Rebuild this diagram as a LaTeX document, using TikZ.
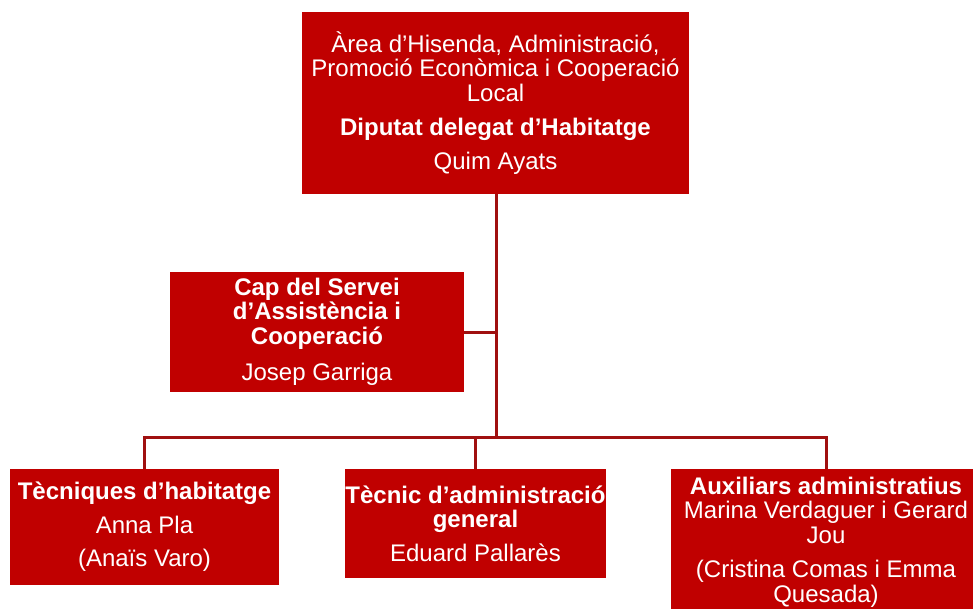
\documentclass[tikz,border=0pt]{standalone}
\usepackage{fontspec}
\setmainfont{Liberation Sans}
\usetikzlibrary{positioning}

\definecolor{boxred}{RGB}{192,0,0}
\definecolor{linered}{RGB}{160,16,16}

\tikzset{
  orgbox/.style={fill=boxred, text=white, inner sep=0pt, align=center,
    font=\fontsize{24}{24.5}\selectfont},
  orgline/.style={draw=linered, line width=3pt}
}

\begin{document}
\begin{tikzpicture}[x=1pt, y=-1pt]
	\useasboundingbox (0,0) rectangle (973,609);
	\clip (0,0) rectangle (973,609);
	\node [orgbox, minimum width=387pt, minimum height=182pt] (area) at (495.5,103)
		{Àrea d’Hisenda, Administració,\\ Promoció Econòmica i Cooperació\\ Local\\[10pt]
		 \textbf{Diputat delegat d’Habitatge}\\[9pt] Quim Ayats};
	\node [orgbox, minimum width=294pt, minimum height=120pt] (cap) at (317,332)
		{\textbf{Cap del Servei}\\ \textbf{d’Assistència i}\\ \textbf{Cooperació}\\[12pt] Josep Garriga};
	\node [orgbox, minimum width=269pt, minimum height=116pt] (tecn) at (144.5,527)
		{\textbf{Tècniques d’habitatge}\\[9pt] Anna Pla\\[9pt] (Anaïs Varo)};
	\node [orgbox, minimum width=261pt, minimum height=109pt] (admin) at (475.5,523.5)
		{\textbf{Tècnic d’administració}\\ \textbf{general}\\[9pt] Eduard Pallarès};
	\node [orgbox, minimum width=310pt, minimum height=146pt] (aux) at (826,542)
		{\textbf{Auxiliars administratius}\\ Marina Verdaguer i Gerard\\ Jou\\[10pt]
		 (Cristina Comas i Emma\\ Quesada)};
	\coordinate (bus) at (496,437);
	\draw [orgline] (area.south -| bus) -- (bus);
	\draw [orgline] (cap.east) -- (cap.east -| bus);
	\draw [orgline] (tecn.north) |- (bus) -| (aux.north);
	\draw [orgline] (bus -| admin.north) -- (admin.north);
\end{tikzpicture}
\end{document}
